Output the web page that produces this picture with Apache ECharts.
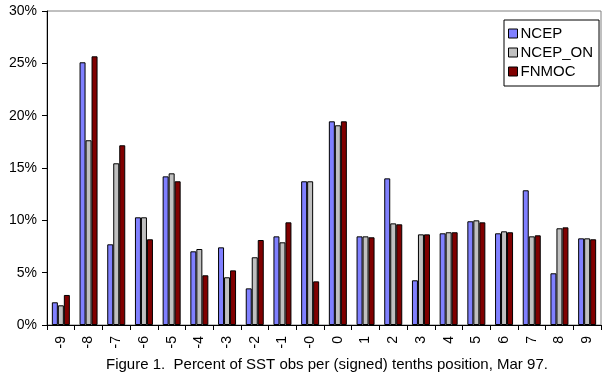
<!DOCTYPE html>
<html>
<head>
<meta charset="utf-8">
<script src="https://cdn.jsdelivr.net/npm/echarts@6/dist/echarts.min.js"></script>
<style>
html,body{margin:0;padding:0;background:#fff;}
#c{width:608px;height:379px;}
</style>
</head>
<body>
<div id="c"></div>
<script>
const categories = ['-9','-8','-7','-6','-5','-4','-3','-2','-1','-0','0','1','2','3','4','5','6','7','8','9'];
const ncep    = [2.17, 25.1, 7.71, 10.29, 14.2, 7.04, 7.42, 3.5, 8.47, 13.73, 19.46, 8.47, 14.01, 4.27, 8.76, 9.91, 8.76, 12.87, 4.94, 8.28];
const ncepOn  = [1.88, 17.65, 15.45, 10.29, 14.49, 7.26, 4.56, 6.47, 7.9, 13.73, 19.08, 8.47, 9.71, 8.66, 8.86, 10.0, 8.95, 8.47, 9.24, 8.28];
const fnmoc   = [2.87, 25.67, 17.17, 8.19, 13.73, 4.75, 5.22, 8.12, 9.81, 4.17, 19.46, 8.38, 9.62, 8.66, 8.86, 9.81, 8.86, 8.57, 9.33, 8.19];
const seriesNames = ['NCEP', 'NCEP_ON', 'FNMOC'];
const yTicks = { min: 0, max: 30, interval: 5 };
const caption = 'Figure 1.  Percent of SST obs per (signed) tenths position, Mar 97.';

const FONT = 'Liberation Sans, Arial, sans-serif';
const colors = ['#8080FF', '#C0C0C0', '#800000'];
const chart = echarts.init(document.getElementById('c'), null, { renderer: 'canvas' });
const data = [ncep, ncepOn, fnmoc];

chart.setOption({
  animation: false,
  backgroundColor: '#fff',
  grid: { left: 47, right: 7, top: 11, bottom: 54, show: true, borderColor: '#808080', borderWidth: 1, backgroundColor: 'transparent' },
  legend: {
    orient: 'vertical',
    left: 504, top: 20,
    padding: [5, 6, 6, 4],
    itemWidth: 9, itemHeight: 9, itemGap: 2,
    icon: 'rect',
    borderColor: '#000', borderWidth: 1,
    backgroundColor: '#fff',
    textStyle: { fontFamily: FONT, fontSize: 15, color: '#000', lineHeight: 17, padding: [0, 0, 0, -2] },
    itemStyle: { borderColor: '#000', borderWidth: 1 },
    data: seriesNames
  },
  xAxis: {
    type: 'category',
    data: categories,
    boundaryGap: true,
    axisLine: { show: true, lineStyle: { color: '#000', width: 1 } },
    axisTick: { show: true, alignWithLabel: false, length: 5, lineStyle: { color: '#000' } },
    axisLabel: { rotate: 90, margin: 11, fontFamily: FONT, fontSize: 14, color: '#000', interval: 0 },
    splitLine: { show: false }
  },
  yAxis: {
    type: 'value',
    min: yTicks.min, max: yTicks.max, interval: yTicks.interval,
    axisLine: { show: true, lineStyle: { color: '#000', width: 1 } },
    axisTick: { show: true, length: 5, lineStyle: { color: '#000' } },
    axisLabel: { formatter: '{value}%', margin: 10, fontFamily: FONT, fontSize: 14, color: '#000' },
    splitLine: { show: false }
  },
  graphic: [{
    type: 'text', left: 106, top: 357,
    style: { text: caption, font: '15px ' + FONT, fill: '#000' }
  }],
  series: seriesNames.map((name, i) => ({
    name: name,
    type: 'bar',
    data: data[i],
    barGap: '0%',
    barCategoryGap: '35%',
    itemStyle: { color: colors[i], borderColor: '#000', borderWidth: 1 }
  }))
});
</script>
</body>
</html>
